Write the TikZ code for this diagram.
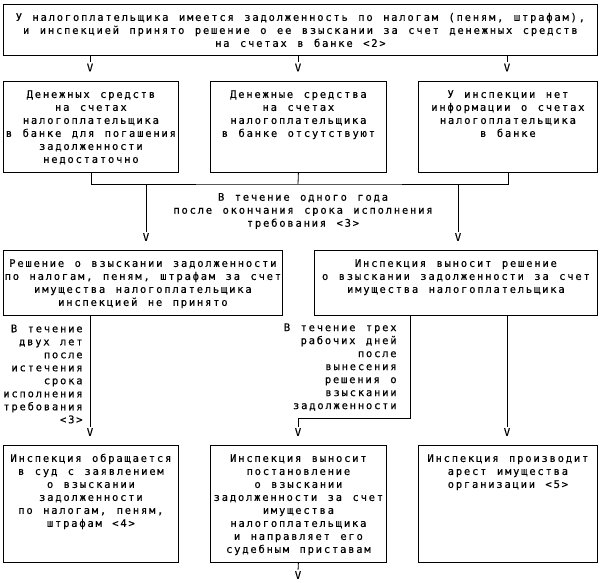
\documentclass[tikz,border=0pt]{standalone}
\usepackage{fontspec}
\newfontfamily\monofont[LetterSpace=17,WordSpace={1.285,0,0},FakeBold=0.3]{DejaVu Sans Mono}
\newcommand{\txt}{\monofont\fontsize{10.5pt}{13pt}\selectfont}
% text of a box: width, height, lines (top aligned)
\newcommand{\boxtext}[3]{\parbox[c][#2][t]{#1}{\centering\rule{0pt}{16.5pt}#3}}

\begin{document}
\begin{tikzpicture}[x=1pt,y=-1pt,line width=0.8pt,
	every node/.style={font=\txt},
	box/.style={draw,inner sep=0pt,anchor=north west},
	vmark/.style={inner sep=0pt},
	note/.style={inner sep=0pt},
	tovee/.style={shorten >=1pt}]
	\useasboundingbox (0,0) rectangle (600,582);

	\node[box] (start) at (3,4) {\boxtext{594pt}{51pt}{У налогоплательщика имеется задолженность по налогам (пеням, штрафам),\\и инспекцией принято решение о ее взыскании за счет денежных средств\\на счетах в банке <2>}};

	\node[vmark] (va) at (90,67.5) {V};
	\node[vmark] (vb) at (298,67.5) {V};
	\node[vmark] (vc) at (507,67.5) {V};
	\draw[tovee] (start.south -| va) -- (va.north);
	\draw[tovee] (start.south -| vb) -- (vb.north);
	\draw[tovee] (start.south -| vc) -- (vc.north);

	\node[box] (lack)   at (3,81)   {\boxtext{175pt}{91pt}{Денежных средств\\на счетах\\налогоплательщика\\в банке для погашения\\задолженности\\недостаточно}};
	\node[box] (none)   at (210,81) {\boxtext{176pt}{91pt}{Денежные средства\\на счетах\\налогоплательщика\\в банке отсутствуют}};
	\node[box] (noinfo) at (418,81) {\boxtext{179pt}{91pt}{У инспекции нет\\информации о счетах\\налогоплательщика\\в банке}};

	\coordinate (join) at (298,184);
	\draw (lack.south) |- (join) -| (noinfo.south);
	\draw (none.south) -- (join);

	\node[note,align=center] (year) at (303,211) {В течение одного года\\после окончания срока исполнения\\требования <3>};

	\node[vmark] (vd) at (146,237) {V};
	\node[vmark] (ve) at (458,237) {V};
	\draw[tovee] (vd |- join) -- (vd.north);
	\draw[tovee] (ve |- join) -- (ve.north);

	\node[box] (notmade) at (3,250)   {\boxtext{279pt}{65pt}{Решение о взыскании задолженности\\по налогам, пеням, штрафам за счет\\имущества налогоплательщика\\инспекцией не принято}};
	\node[box] (made)    at (314,250) {\boxtext{283pt}{65pt}{Инспекция выносит решение\\о взыскании задолженности за счет\\имущества налогоплательщика}};

	\node[vmark] (vf) at (90,432) {V};
	\node[vmark] (vg) at (298,432) {V};
	\node[vmark] (vh) at (507,432) {V};
	\coordinate (turn) at (410,418);
	\draw[tovee] (notmade.south -| vf) -- (vf.north);
	\draw[tovee] (made.south -| turn) -- (turn) -| (vg.north);
	\draw[tovee] (made.south -| vh) -- (vh.north);

	\node[note,anchor=east,align=right] (twoyears)  at (83,374)  {В течение\\двух лет\\после\\истечения\\срока\\исполнения\\требования\\<3>};
	\node[note,anchor=east,align=right] (threedays) at (397,367) {В течение трех\\рабочих дней\\после\\вынесения\\решения о\\взыскании\\задолженности};

	\node[box] (court)   at (3,445)   {\boxtext{175pt}{117pt}{Инспекция обращается\\в суд с заявлением\\о взыскании\\задолженности\\по налогам, пеням,\\штрафам <4>}};
	\node[box] (bailiff) at (210,445) {\boxtext{176pt}{117pt}{Инспекция выносит\\постановление\\о взыскании\\задолженности за счет\\имущества\\налогоплательщика\\и направляет его\\судебным приставам}};
	\node[box] (arrest)  at (418,445) {\boxtext{179pt}{117pt}{Инспекция производит\\арест имущества\\организации <5>}};

	\node[vmark] (vi) at (298,575) {V};
	\draw[tovee] (bailiff.south) -- (vi.north);
\end{tikzpicture}
\end{document}
